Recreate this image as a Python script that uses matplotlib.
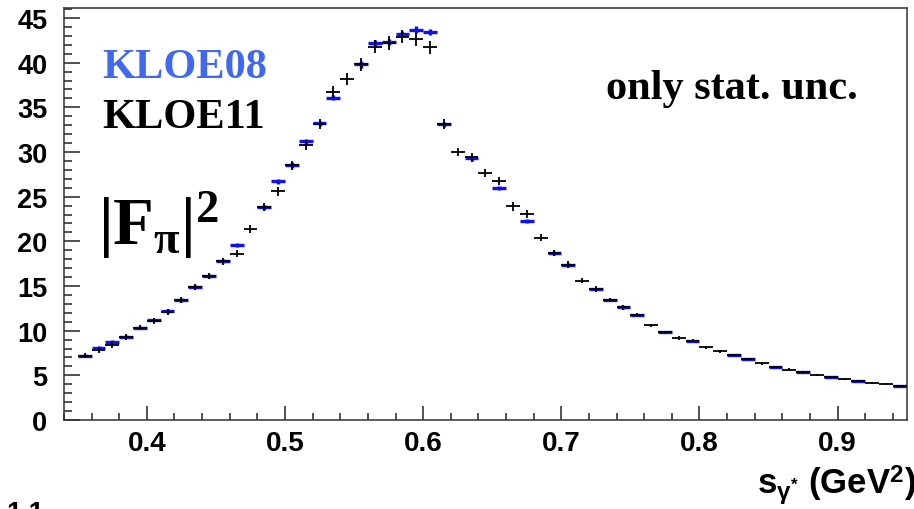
import numpy as np
import matplotlib
matplotlib.use("Agg")
import matplotlib.pyplot as plt
from matplotlib.ticker import MultipleLocator

plt.rcParams['mathtext.fontset'] = 'custom'
plt.rcParams['mathtext.rm'] = 'Liberation Serif:bold'
plt.rcParams['mathtext.it'] = 'Liberation Serif:bold'
plt.rcParams['mathtext.bf'] = 'Liberation Serif:bold'
plt.rcParams['mathtext.sf'] = 'Liberation Sans:bold'

BIN_WIDTH = 0.01
BIN_CENTERS = [0.355, 0.365, 0.375, 0.385, 0.395, 0.405, 0.415, 0.425, 0.435, 0.445,
               0.455, 0.465, 0.475, 0.485, 0.495, 0.505, 0.515, 0.525, 0.535, 0.545,
               0.555, 0.565, 0.575, 0.585, 0.595, 0.605, 0.615, 0.625, 0.635, 0.645,
               0.655, 0.665, 0.675, 0.685, 0.695, 0.705, 0.715, 0.725, 0.735, 0.745,
               0.755, 0.765, 0.775, 0.785, 0.795, 0.805, 0.815, 0.825, 0.835, 0.845,
               0.855, 0.865, 0.875, 0.885, 0.895, 0.905, 0.915, 0.925, 0.935, 0.945]

# KLOE11 (black)
KLOE11_FF = [7.2, 7.84, 8.4, 9.3, 10.34, 11.1, 12.1, 13.44, 14.9, 16.1,
             17.75, 18.6, 21.4, 23.8, 25.6, 28.5, 30.8, 33.1, 36.7, 38.2,
             39.8, 41.8, 42.2, 42.9, 42.6, 41.7, 33.1, 30.0, 29.4, 27.7,
             26.8, 23.9, 23.1, 20.4, 18.67, 17.4, 15.6, 14.67, 13.44, 12.6,
             11.76, 10.6, 9.8, 9.18, 8.88, 8.14, 7.69, 7.28, 6.83, 6.35,
             5.95, 5.63, 5.34, 5.04, 4.78, 4.59, 4.33, 4.1, 4.03, 3.8]
KLOE11_ERR = [0.3, 0.3, 0.3, 0.3, 0.3, 0.3, 0.35, 0.35, 0.35, 0.35,
              0.4, 0.4, 0.45, 0.45, 0.5, 0.5, 0.55, 0.55, 0.65, 0.65,
              0.7, 0.7, 0.75, 0.75, 0.75, 0.75, 0.55, 0.5, 0.5, 0.45,
              0.45, 0.45, 0.45, 0.4, 0.35, 0.35, 0.3, 0.3, 0.25, 0.25,
              0.25, 0.2, 0.2, 0.2, 0.2, 0.18, 0.18, 0.16, 0.16, 0.15,
              0.15, 0.14, 0.14, 0.13, 0.13, 0.12, 0.12, 0.12, 0.1, 0.1]

# KLOE08 (blue), nan where hidden under KLOE11
nan = np.nan
KLOE08_FF = [7.2, 8.1, 8.77, 9.33, 10.34, 11.2, 12.2, 13.44, 14.9, 16.15,
             17.77, 19.6, nan, 23.8, 26.7, 28.55, 31.2, 33.2, 36.1, nan,
             39.8, 42.2, 42.3, 43.2, 43.7, 43.4, 33.1, nan, 29.3, nan,
             26.0, nan, 22.25, nan, 18.67, 17.35, nan, 14.67, 13.44, 12.6,
             11.76, nan, 9.85, nan, 8.85, nan, nan, 7.25, 6.83, nan,
             5.9, nan, 5.32, nan, 4.76, nan, 4.33, nan, nan, 3.78]
KLOE08_ERR = [0.15, 0.15, 0.15, 0.15, 0.15, 0.15, 0.2, 0.2, 0.2, 0.2,
              0.2, 0.25, 0.25, 0.25, 0.25, 0.3, 0.3, 0.3, 0.3, 0.3,
              0.35, 0.35, 0.35, 0.35, 0.35, 0.35, 0.3, 0.3, 0.3, 0.25,
              0.25, 0.25, 0.25, 0.2, 0.2, 0.2, 0.2, 0.15, 0.15, 0.15,
              0.15, 0.12, 0.12, 0.12, 0.12, 0.1, 0.1, 0.1, 0.1, 0.1,
              0.08, 0.08, 0.08, 0.08, 0.08, 0.07, 0.07, 0.07, 0.07, 0.07]

X_TICKS = [0.4, 0.5, 0.6, 0.7, 0.8, 0.9]
Y_TICKS = [0, 5, 10, 15, 20, 25, 30, 35, 40, 45]

BLUE_BARS = '#1010f0'
BLUE_TEXT = '#4169f0'
SERIF = 'Liberation Serif'
SANS = 'Liberation Sans'


def style_axes(ax):
    ax.set_xlim(0.34, 0.95)
    ax.set_ylim(0, 46.1)
    ax.set_xticks(X_TICKS)
    ax.set_yticks(Y_TICKS)
    ax.xaxis.set_minor_locator(MultipleLocator(0.02))
    ax.yaxis.set_minor_locator(MultipleLocator(1))
    ax.tick_params(which='both', direction='in', top=False, right=False, width=1.1,
                   colors='#222222')
    ax.tick_params(axis='y', which='major', length=11.5, pad=12)
    ax.tick_params(axis='y', which='minor', length=5.8)
    ax.tick_params(axis='x', which='major', length=10, pad=7)
    ax.tick_params(axis='x', which='minor', length=5)
    for lab in ax.get_yticklabels():
        lab.set_fontsize(19.5)
    for lab in ax.get_xticklabels():
        lab.set_fontsize(20)
    for lab in ax.get_xticklabels() + ax.get_yticklabels():
        lab.set_fontfamily(SANS)
        lab.set_fontweight('bold')
        lab.set_color('black')
    for side in ['left', 'bottom', 'top', 'right']:
        ax.spines[side].set_linewidth(1.1)
        ax.spines[side].set_color('#333333')


def main():
    fig = plt.figure(figsize=(9.14, 5.10), dpi=100)
    ax = fig.add_axes([0.070, 0.1745, 0.922, 0.8075])

    xerr = BIN_WIDTH / 2
    ax.errorbar(BIN_CENTERS, KLOE08_FF, xerr=xerr, yerr=KLOE08_ERR, fmt='none',
                ecolor=BLUE_BARS, elinewidth=2.4, capsize=0, zorder=2)
    ax.errorbar(BIN_CENTERS, KLOE11_FF, xerr=xerr, yerr=KLOE11_ERR, fmt='none',
                ecolor='black', elinewidth=1.3, capsize=0, zorder=3)
    style_axes(ax)

    ax.text(0.045, 0.832, 'KLOE08', transform=ax.transAxes, color=BLUE_TEXT,
            fontfamily=SERIF, fontweight='bold', fontsize=30.5, va='baseline')
    ax.text(0.045, 0.712, 'KLOE11', transform=ax.transAxes, color='black',
            fontfamily=SERIF, fontweight='bold', fontsize=30.5, va='baseline')
    ax.text(0.643, 0.783, 'only stat. unc.', transform=ax.transAxes, color='black',
            fontfamily=SERIF, fontweight='bold', fontsize=30.5, va='baseline')
    ax.text(0.040, 0.427, r'$|F_{\pi}|^{2}$', transform=ax.transAxes, color='black',
            fontsize=48, va='baseline')

    fig.text(757 / 914, 1 - 494 / 510, r'$\mathsf{s_{\gamma^{*}}}$ (GeV$^{\mathsf{2}}$)',
             fontfamily=SANS, fontweight='bold', fontsize=25, va='baseline', ha='left')
    fig.text(25 / 914, 1 - 501 / 510, '1.1', fontfamily=SANS, fontweight='bold',
             fontsize=19.5, va='top', ha='center')

    fig.savefig('out.png', dpi=100)


if __name__ == '__main__':
    main()
